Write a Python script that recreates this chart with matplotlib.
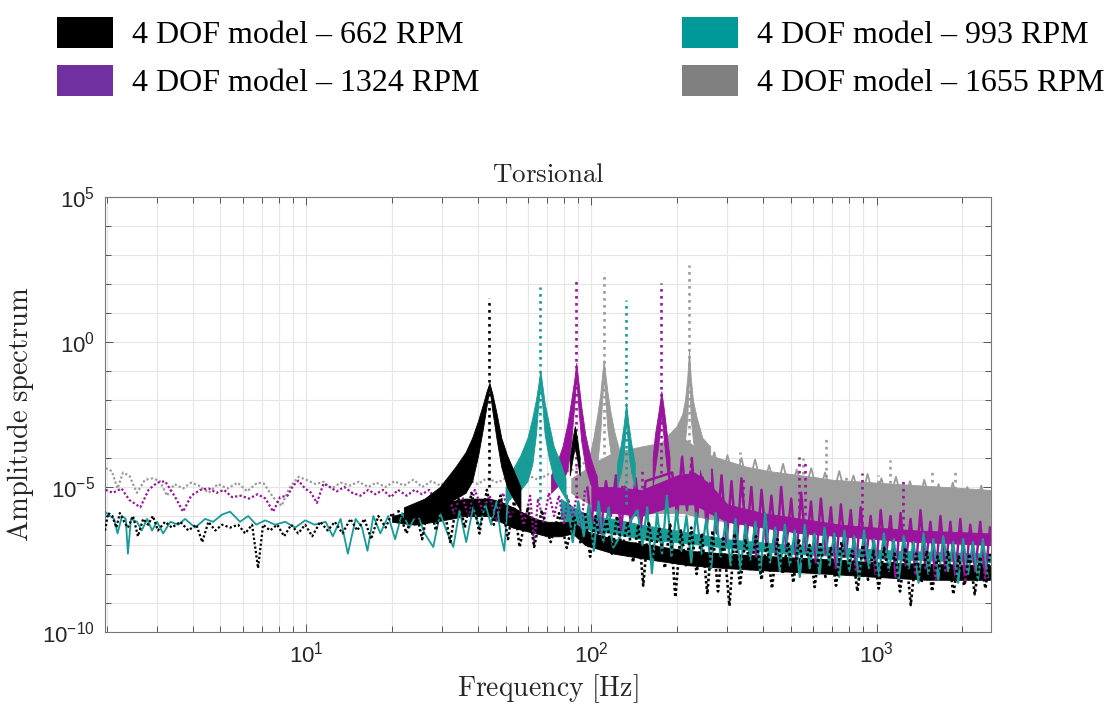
import matplotlib
matplotlib.use('Agg')
import matplotlib.pyplot as plt
from matplotlib.patches import Patch
import numpy as np

plt.rcParams['font.family'] = ['Liberation Sans', 'DejaVu Sans']

labels = ['4 DOF model – 662 RPM', '4 DOF model – 993 RPM',
          '4 DOF model – 1324 RPM', '4 DOF model – 1655 RPM']
legend_colors = ['#000000', '#009999', '#7030a0', '#808080']
line_colors = ['#000000', '#179c98', '#9a139c', '#9b9b9b']

# all amplitudes below are log10 of the amplitude spectrum, frequencies in Hz

# ---- 1655 RPM (gray) ----
gray_low_f = [1.98, 2.08, 2.18, 2.28, 2.40, 2.55, 2.72, 2.90, 3.07, 3.25,
              3.45, 3.70, 3.95, 4.20, 4.55, 4.90, 5.30, 5.75, 6.20, 6.75,
              7.10, 7.65, 8.20, 8.70, 9.40, 10.0, 10.8, 11.5, 12.3, 13.2,
              14.2, 15.3, 16.5, 17.6, 19.0, 20.4, 22.0, 23.8, 25.5, 27.5,
              29.5, 32.0, 34.5, 37.0, 40.0, 43.0, 47.0, 51.0, 55.0, 60.0,
              65.0, 71.0, 77.0, 83.0, 90.0, 96.0]
gray_low_e = [-4.35, -4.45, -5.05, -4.50, -4.62, -5.20, -4.75, -4.70, -4.80, -5.30,
              -4.90, -5.05, -4.85, -4.95, -5.20, -4.90, -5.05, -4.85, -5.15, -4.85,
              -4.88, -5.35, -5.65, -5.05, -4.65, -4.75, -4.90, -4.82, -5.05, -4.85,
              -4.95, -4.82, -5.00, -4.85, -5.00, -4.80, -4.95, -4.75, -5.00, -4.80,
              -4.95, -4.70, -4.90, -4.75, -4.90, -4.70, -4.85, -4.65, -4.80, -4.60,
              -4.75, -4.55, -4.65, -4.45, -4.35, -4.10]
gray_f = [85, 95, 105, 120, 135, 150, 170, 190, 210, 230, 260, 300, 350, 420,
          500, 600, 700, 850, 1000, 1200, 1450, 1750, 2100, 2500]
gray_hi = [-4.7, -4.4, -4.1, -3.8, -3.7, -3.6, -3.5, -3.4, -3.3, -3.6, -3.9, -4.1,
           -4.3, -4.45, -4.55, -4.65, -4.75, -4.8, -4.85, -4.9, -4.95, -5.0, -5.05, -5.1]
gray_lo = [-5.2, -5.5, -5.7, -5.8, -5.8, -5.9, -5.9, -5.9, -5.9, -6.0, -6.1, -6.2,
           -6.3, -6.35, -6.4, -6.45, -6.5, -6.55, -6.6, -6.65, -6.7, -6.75, -6.8, -6.85]
gray_noise_f = [240, 255, 270, 285, 300, 318, 336, 355, 375, 398, 420, 445, 470, 498,
                525, 555, 590, 625, 660, 700, 740, 785, 830, 880, 930, 985, 1040, 1100,
                1170, 1240, 1310, 1390, 1470, 1560, 1650, 1750, 1850, 1960, 2080, 2200,
                2330, 2470]
gray_noise_e = [-3.55, -4.6, -3.8, -4.8, -3.9, -4.9, -4.0, -5.0, -4.05, -5.1, -4.25, -5.2,
                -4.2, -5.2, -4.4, -5.3, -4.35, -5.3, -4.5, -5.4, -4.45, -5.4, -4.6, -5.5,
                -4.55, -5.5, -4.7, -5.6, -4.65, -5.6, -4.8, -5.7, -4.75, -5.7, -4.9, -5.8,
                -4.85, -5.8, -5.0, -5.9, -4.95, -5.9]
gray_res1_f = [87.5, 94.0, 98.2, 101.6, 104.9, 107.4, 109.1, 110.5, 111.9, 113.8,
               116.6, 120.4, 126.6, 134.0]
gray_res1_hi = [-4.8, -4.5, -4.0, -3.3, -2.5, -1.8, -1.1, -0.62, -1.1, -1.7,
                -2.4, -3.1, -3.9, -4.2]
gray_res1_lo = [-5.2, -5.0, -4.9, -4.6, -4.2, -3.2, -2.0, -1.2, -2.0, -3.0,
                -3.8, -4.3, -4.8, -5.0]
gray_res2_f = [174.6, 186, 199, 208, 213, 217, 220, 223, 227, 234, 245, 261]
gray_res2_hi = [-3.5, -3.2, -2.9, -2.5, -2.0, -1.2, -0.28, -1.2, -2.0, -2.6, -3.3, -3.6]
gray_res2_lo = [-4.5, -4.4, -4.2, -3.8, -3.4, -2.6, -1.0, -2.6, -3.4, -4.0, -4.6, -4.8]
gray_peak_f = [110.5, 220]
gray_peak_top = [2.41, 2.66]
gray_peak_base = [-4.6, -4.4]
gray_up_f = [333, 554, 667, 784, 1010, 1112, 1570, 1890]
gray_up_top = [-3.8, -4.0, -3.28, -4.5, -4.6, -4.07, -4.38, -4.47]
gray_up_base = [-4.6, -4.8, -4.9, -5.0, -5.1, -5.1, -5.3, -5.3]

# ---- 1324 RPM (purple) ----
purple_low_f = [1.98, 2.10, 2.25, 2.40, 2.62, 2.80, 3.00, 3.20, 3.45, 3.70,
                3.95, 4.25, 4.55, 4.85, 5.15, 5.50, 5.90, 6.30, 6.75, 7.20,
                7.66, 8.10, 8.60, 9.00, 9.40, 9.90, 10.4, 10.9, 11.5, 12.1,
                12.8, 13.6, 14.5, 15.5, 16.5, 17.5, 18.6, 19.8, 21.0, 22.5,
                24.0, 25.5, 27.0, 29.0, 31.0, 33.0, 35.0, 37.0, 39.0, 41.5,
                44.0, 46.5, 49.0, 52.0, 55.0, 58.0, 61.0, 63.0, 65.0, 68.0,
                71.0, 74.0, 77.0, 80.0, 83.0, 86.0, 89.0, 92.0, 95.0]
purple_low_e = [-5.10, -5.20, -5.05, -5.45, -5.70, -5.10, -4.85, -4.80, -5.30, -5.85,
                -5.30, -5.10, -5.05, -5.20, -5.10, -5.35, -5.30, -5.40, -5.25, -5.40,
                -5.85, -5.35, -5.30, -4.95, -4.78, -5.05, -5.20, -5.55, -4.88, -5.00,
                -5.15, -5.00, -5.20, -5.30, -5.10, -5.25, -5.10, -5.35, -5.10, -5.30,
                -5.10, -5.25, -5.10, -5.60, -5.05, -5.90, -5.20, -6.00, -5.10, -5.80,
                -5.30, -6.20, -5.20, -6.10, -5.40, -6.30, -5.30, -7.00, -5.40, -6.20,
                -5.20, -6.00, -5.30, -6.30, -5.40, -6.10, -5.20, -6.40, -5.10]
purple_f = [100, 120, 150, 200, 230, 260, 300, 400, 550, 750, 1000, 1400, 1900, 2500]
purple_hi = [-5.0, -5.0, -5.1, -4.6, -4.5, -4.9, -5.6, -5.9, -6.1, -6.3, -6.4, -6.5,
             -6.55, -6.6]
purple_lo = [-5.8, -5.9, -6.0, -5.6, -5.6, -5.9, -6.2, -6.4, -6.6, -6.7, -6.8, -6.9,
             -6.95, -7.0]
purple_noise_f = [96, 100, 104, 108, 112.5, 117, 122, 127, 132, 137.5, 143, 149, 155,
                  192, 200, 208, 216.5, 225, 234, 244, 254, 264, 275, 286, 298, 310,
                  323, 336, 350, 364, 379, 395, 411, 428, 445, 463, 482, 502, 523, 544,
                  566, 589, 613, 638, 664, 692, 720, 750, 780, 812, 846, 880, 916, 954,
                  993, 1034, 1076, 1120, 1166, 1214, 1264, 1316, 1370, 1426, 1484, 1545,
                  1609, 1675, 1743, 1815, 1889, 1967, 2047, 2131, 2219, 2310, 2404, 2500]
purple_noise_e = [-4.7, -6.3, -4.6, -6.6, -4.8, -6.0, -4.6, -6.5, -4.9, -6.2, -4.7, -6.4,
                  -4.8, -4.5, -6.0, -3.95, -5.8, -4.0, -6.2, -4.3, -6.4, -4.4, -6.6, -4.6,
                  -6.9, -4.8, -7.1, -4.7, -6.8, -5.0, -7.4, -5.1, -7.0, -5.3, -7.3, -5.0,
                  -7.1, -5.4, -7.5, -5.2, -7.2, -5.5, -7.6, -5.4, -7.3, -5.7, -7.8, -5.6,
                  -7.4, -5.8, -7.9, -5.7, -7.6, -6.0, -8.0, -5.8, -7.5, -6.0, -8.1, -5.9,
                  -7.7, -6.1, -8.0, -5.8, -7.8, -6.2, -8.2, -6.0, -7.9, -6.2, -8.1, -6.1,
                  -8.3, -6.3, -7.9, -6.2, -8.2, -6.4]
purple_res1_f = [72.2, 75.5, 79.2, 82.5, 85.0, 87.1, 88.5, 89.9, 92.1, 95.2, 99.3, 104]
purple_res1_hi = [-4.6, -4.2, -3.6, -2.8, -2.0, -1.3, -0.72, -1.3, -2.2, -3.2, -4.0, -4.6]
purple_res1_lo = [-5.2, -5.0, -4.8, -4.4, -3.4, -2.2, -1.2, -2.2, -3.4, -4.3, -4.9, -5.3]
purple_res2_f = [164, 167, 172, 176, 180, 184, 188]
purple_res2_hi = [-4.0, -3.2, -2.4, -1.7, -2.4, -3.2, -4.0]
purple_res2_lo = [-5.0, -4.4, -3.5, -2.5, -3.5, -4.4, -5.0]
purple_peak_f = [88.5, 176]
purple_peak_top = [2.17, 2.03]
purple_peak_base = [-5.0, -4.5]
purple_up_f = [128, 150, 340, 535, 560, 890, 1240]
purple_up_top = [-4.4, -4.3, -4.6, -3.97, -4.07, -4.5, -4.8]
purple_up_base = [-5.5, -5.5, -5.8, -6.2, -6.2, -6.5, -6.6]

# ---- 993 RPM (teal) ----
teal_low_f = [1.97, 2.05, 2.12, 2.18, 2.26, 2.33, 2.37, 2.43, 2.55, 2.65,
              2.77, 2.88, 3.00, 3.15, 3.34, 3.56, 3.76, 4.08, 4.42, 4.72,
              5.07, 5.41, 5.86, 6.26, 6.68, 7.18, 7.78, 8.44, 9.15, 9.92,
              10.7, 11.7, 12.4, 13.2, 14.0, 14.9, 15.7, 16.4, 17.2, 18.2,
              19.4, 20.5, 21.7, 23.0, 24.5, 26.0, 27.9, 29.5, 31.0, 32.8,
              34.5, 36.4, 38.5, 40.5, 42.5, 44.5, 46.5, 48.0, 49.5, 51.0]
teal_low_e = [-5.85, -6.00, -6.10, -6.60, -6.00, -6.10, -7.30, -6.10, -6.20, -6.50,
              -6.10, -6.50, -6.20, -6.60, -6.20, -6.30, -6.10, -6.40, -6.10, -6.20,
              -5.95, -5.85, -6.20, -6.00, -6.30, -6.15, -6.30, -6.20, -6.40, -6.15,
              -6.30, -6.20, -6.70, -6.10, -7.30, -6.10, -6.40, -7.20, -6.00, -6.60,
              -6.00, -6.80, -5.90, -6.40, -5.90, -6.60, -7.07, -5.90, -6.50, -7.07,
              -5.80, -6.90, -5.70, -6.40, -5.60, -6.30, -5.50, -6.60, -7.20, -5.40]
teal_f = [78, 90, 100, 120, 150, 200, 300, 500, 800, 1200, 1800, 2500]
teal_hi = [-5.4, -5.8, -6.0, -6.1, -6.3, -6.5, -6.8, -7.0, -7.1, -7.2, -7.25, -7.3]
teal_lo = [-6.1, -6.3, -6.5, -6.6, -6.8, -6.9, -7.1, -7.3, -7.4, -7.5, -7.55, -7.6]
teal_noise_f = [82, 86, 90, 94, 98, 102, 106, 110, 115, 119, 145, 151, 157, 163, 170,
                177, 184, 191, 199, 207, 215.5, 224, 233, 243, 253, 263, 273, 284, 296,
                308, 320, 333, 347, 361, 376, 391, 407, 423, 441, 458, 477, 497, 517,
                538, 560, 583, 606, 631, 657, 684, 711, 740, 771, 802, 835, 869, 904,
                941, 980, 1020, 1061, 1104, 1149, 1196, 1245, 1296, 1349, 1404, 1461,
                1521, 1583, 1647, 1714, 1784, 1857, 1933, 2012, 2094, 2179, 2268, 2360,
                2456]
teal_noise_e = [-5.3, -6.9, -5.5, -6.7, -5.6, -7.2, -5.5, -6.9, -5.7, -7.1, -5.8, -7.0,
                -5.7, -7.97, -5.9, -7.3, -5.3, -7.4, -5.8, -7.2, -6.0, -7.6, -5.9, -7.3,
                -6.1, -7.8, -5.9, -7.4, -6.2, -7.7, -6.1, -7.9, -6.3, -7.5, -6.2, -8.0,
                -5.9, -7.6, -6.4, -7.9, -6.3, -7.7, -6.5, -8.1, -6.3, -7.8, -6.6, -8.0,
                -6.4, -7.7, -6.6, -8.1, -6.5, -7.9, -6.7, -8.2, -6.5, -7.8, -6.8, -8.1,
                -6.6, -7.9, -6.8, -8.2, -6.7, -7.8, -6.9, -8.3, -6.6, -8.0, -6.8, -8.2,
                -6.7, -7.9, -6.9, -8.3, -6.8, -8.0, -6.9, -8.2, -6.8, -8.1]
teal_res1_f = [50, 52.9, 56.4, 59.7, 62.1, 63.9, 65.1, 66.2, 67.3, 68.6, 70.9, 73.8, 76.8, 81.2]
teal_res1_hi = [-5.0, -4.4, -3.9, -3.3, -2.6, -2.0, -1.5, -0.97, -1.5, -2.1, -2.8, -3.6, -4.0, -4.7]
teal_res1_lo = [-5.6, -5.3, -5.1, -4.8, -4.2, -3.2, -2.2, -1.5, -2.2, -3.2, -4.0, -4.7, -5.0, -5.4]
teal_res2_f = [123, 127, 130, 132.4, 134.8, 138, 142]
teal_res2_hi = [-4.2, -3.5, -2.8, -2.1, -2.8, -3.5, -4.2]
teal_res2_lo = [-5.0, -4.5, -3.8, -2.7, -3.8, -4.5, -5.0]
teal_peak_f = [66.2, 132.4]
teal_peak_top = [1.9, 1.45]
teal_peak_base = [-5.4, -5.6]

# ---- 662 RPM (black) ----
black_low_f = [1.97, 2.02, 2.09, 2.16, 2.22, 2.30, 2.37, 2.47, 2.57, 2.68,
               2.79, 2.90, 3.02, 3.20, 3.38, 3.62, 3.86, 4.12, 4.32, 4.54,
               4.80, 5.07, 5.41, 5.77, 6.11, 6.46, 6.78, 7.06, 7.47, 7.91,
               8.37, 8.86, 9.37, 9.92, 10.5, 11.2, 11.9, 12.6, 13.4, 14.3,
               15.1, 16.0, 16.9, 17.9, 19.0, 20.0, 21.4]
black_low_e = [-6.5, -5.9, -6.0, -6.4, -5.9, -6.2, -6.4, -6.0, -6.7, -6.1,
               -6.3, -6.0, -6.5, -6.2, -6.4, -6.2, -6.5, -6.3, -6.9, -6.2,
               -6.5, -6.3, -6.4, -6.3, -6.6, -6.3, -7.8, -6.3, -6.5, -6.3,
               -6.7, -6.3, -6.6, -6.3, -6.7, -6.2, -6.5, -6.2, -6.6, -6.1,
               -6.5, -6.1, -6.8, -6.0, -6.4, -5.9, -6.3]
black_f = [20, 24, 28, 32, 36, 40, 44, 48, 53, 58, 64, 70, 78, 86, 95, 120, 160,
           220, 300, 450, 700, 1000, 1500, 2500]
black_hi = [-6.0, -5.8, -5.6, -5.5, -5.4, -5.4, -5.4, -5.5, -5.7, -5.9, -6.1, -6.2,
            -6.2, -6.2, -6.5, -6.8, -7.0, -7.2, -7.3, -7.4, -7.5, -7.6, -7.65, -7.7]
black_lo = [-6.2, -6.3, -6.2, -6.1, -6.0, -6.0, -6.0, -6.2, -6.4, -6.5, -6.6, -6.7,
            -6.7, -6.6, -7.0, -7.3, -7.5, -7.7, -7.8, -7.9, -8.0, -8.1, -8.2, -8.2]
black_mid_f = [21, 22.5, 24, 25.5, 27, 28.5, 30, 32, 34, 36, 38, 40.5, 43, 45.5,
               48, 51, 53.5, 56, 60, 63, 67, 72, 77, 82, 87, 92]
black_mid_e = [-5.8, -6.6, -5.6, -6.8, -5.5, -6.5, -5.4, -6.9, -5.3, -6.4, -5.2, -6.6,
               -5.1, -6.3, -5.3, -6.8, -5.5, -7.07, -5.7, -7.07, -5.8, -6.9, -5.9, -7.1,
               -6.0, -7.0]
black_noise_f = [95, 99, 103.5, 108, 113, 118, 123, 128, 134, 140, 146, 152, 159, 166,
                 173, 181, 189, 197, 206, 215, 224, 234, 244, 255, 266, 278, 290, 305,
                 318, 332, 347, 362, 378, 395, 412, 430, 449, 469, 490, 511, 534, 557,
                 582, 607, 634, 662, 691, 721, 753, 786, 821, 857, 895, 934, 975, 1018,
                 1063, 1110, 1158, 1209, 1263, 1318, 1376, 1437, 1500, 1566, 1635, 1707,
                 1782, 1860, 1942, 2028, 2117, 2210, 2307, 2409, 2500]
black_noise_e = [-5.9, -7.4, -6.0, -7.1, -6.1, -7.3, -6.0, -7.2, -6.2, -7.6, -6.3, -8.4,
                 -6.2, -7.5, -6.4, -7.8, -6.3, -8.8, -6.5, -7.7, -6.4, -8.0, -6.6, -8.7,
                 -6.5, -8.6, -6.7, -9.1, -6.6, -8.4, -6.8, -7.9, -6.7, -8.2, -6.9, -8.5,
                 -6.8, -8.0, -6.9, -8.3, -6.8, -7.9, -7.0, -8.45, -6.9, -8.1, -7.1, -8.4,
                 -6.9, -8.0, -7.2, -8.6, -7.0, -8.2, -7.2, -8.5, -7.1, -8.1, -7.3, -8.6,
                 -7.1, -9.07, -7.3, -8.3, -7.2, -8.6, -7.4, -8.2, -7.2, -8.7, -7.4, -8.4,
                 -7.3, -8.7, -7.4, -8.5, -7.3]
black_res1_f = [22, 26, 29.4, 33.4, 36.2, 38.2, 40.1, 41.8, 42.9, 43.9, 45.0, 46.6,
                48.3, 50.6, 53.2, 56.4]
black_res1_hi = [-5.7, -5.4, -5.0, -4.3, -3.8, -3.3, -2.7, -2.1, -1.7, -1.41, -1.8, -2.5,
                 -3.3, -3.9, -4.4, -5.0]
black_res1_lo = [-6.1, -6.0, -5.7, -5.4, -5.2, -4.8, -3.9, -2.9, -2.2, -1.6, -2.4, -3.4,
                 -4.3, -5.0, -5.4, -5.8]
black_res2_f = [84, 86, 87.5, 89, 91]
black_res2_hi = [-4.0, -3.3, -2.9, -3.3, -4.0]
black_res2_lo = [-4.6, -4.0, -3.6, -4.0, -4.6]
black_peak_f = [43.9]
black_peak_top = [1.52]
black_peak_base = [-5.0]


def dec(e):
    return 10.0 ** np.asarray(e, dtype=float)


def band(ax, f, hi, lo, color, z):
    ax.fill_between(f, dec(lo), dec(hi), color=color, lw=0.6, zorder=z)


def spikes(ax, f, a, b, color, z, lw=1.9):
    ax.vlines(f, dec(a), dec(b), colors=color, linestyles='dotted', lw=lw, zorder=z)


def dotted(ax, f, e, color, z, lw=1.6):
    ax.plot(f, dec(e), color=color, lw=lw, dashes=(1, 1), zorder=z)


def trace(ax, f, e, color, z, lw=1.3):
    ax.plot(f, dec(e), color=color, lw=lw, zorder=z)


fig = plt.figure(figsize=(11.08, 7.13), dpi=100)
ax = fig.add_axes([105 / 1108, 1 - 632 / 713, 886 / 1108, 435 / 713])

black, teal, purple, gray = line_colors

# dense cores of the broadband noise
band(ax, gray_f, gray_hi, gray_lo, gray, 2)
band(ax, purple_f, purple_hi, purple_lo, purple, 3)
band(ax, teal_f, teal_hi, teal_lo, teal, 4)
band(ax, black_f, black_hi, black_lo, black, 5)

# low-frequency traces and noise spikes
dotted(ax, gray_low_f, gray_low_e, gray, 6)
trace(ax, gray_noise_f, gray_noise_e, gray, 6)
spikes(ax, gray_up_f, gray_up_base, gray_up_top, gray, 6)
dotted(ax, purple_low_f, purple_low_e, purple, 7)
trace(ax, purple_noise_f, purple_noise_e, purple, 7, lw=1.8)
spikes(ax, purple_up_f, purple_up_base, purple_up_top, purple, 7)
trace(ax, teal_low_f, teal_low_e, teal, 8)
trace(ax, teal_noise_f, teal_noise_e, teal, 8, lw=1.6)
dotted(ax, black_low_f, black_low_e, black, 9)
dotted(ax, black_mid_f, black_mid_e, black, 9, lw=1.8)
dotted(ax, black_noise_f, black_noise_e, black, 9, lw=1.9)

# resonance peaks
band(ax, gray_res1_f, gray_res1_hi, gray_res1_lo, gray, 10)
band(ax, gray_res2_f, gray_res2_hi, gray_res2_lo, gray, 10)
spikes(ax, gray_peak_f, gray_peak_base, gray_peak_top, gray, 10)
band(ax, purple_res1_f, purple_res1_hi, purple_res1_lo, purple, 11)
band(ax, purple_res2_f, purple_res2_hi, purple_res2_lo, purple, 11)
spikes(ax, purple_peak_f, purple_peak_base, purple_peak_top, purple, 11)
band(ax, teal_res1_f, teal_res1_hi, teal_res1_lo, teal, 12)
band(ax, teal_res2_f, teal_res2_hi, teal_res2_lo, teal, 12)
spikes(ax, teal_peak_f, teal_peak_base, teal_peak_top, teal, 12)
band(ax, black_res1_f, black_res1_hi, black_res1_lo, black, 13)
band(ax, black_res2_f, black_res2_hi, black_res2_lo, black, 13)
spikes(ax, black_peak_f, black_peak_base, black_peak_top, black, 13)

ax.set_xscale('log')
ax.set_yscale('log')
ax.set_xlim(1.97, 2520)
ax.set_ylim(1e-10, 1e5)

ax.set_xticks([10, 100, 1000])
ax.set_xticklabels([r'$\mathregular{10^{1}}$', r'$\mathregular{10^{2}}$',
                    r'$\mathregular{10^{3}}$'], fontsize=16)
ax.set_xticks([m * 10.0 ** k for k in range(0, 4) for m in range(2, 10)
               if 1.97 < m * 10.0 ** k < 2520], minor=True)
ax.set_yticks([1e-10, 1e-5, 1e0, 1e5])
ax.set_yticklabels([r'$\mathregular{10^{-10}}$', r'$\mathregular{10^{-5}}$',
                    r'$\mathregular{10^{0}}$', r'$\mathregular{10^{5}}$'], fontsize=16)
ax.set_yticks([10.0 ** k for k in range(-10, 6) if k % 5], minor=True)
ax.tick_params(which='both', direction='in', top=True, right=True,
               color='#555555', width=0.7)
ax.tick_params(which='major', length=6, pad=7, labelcolor='#262626')
ax.tick_params(which='minor', length=4, labelleft=False, labelbottom=False)
ax.grid(True, which='both', color='#e6e6e6', lw=0.8)
ax.set_axisbelow(True)
for sp in ax.spines.values():
    sp.set_color('#777777')
    sp.set_linewidth(0.8)

ax.set_title(r'$\mathrm{Torsional}$', math_fontfamily='cm', fontsize=19.5,
             pad=11, color='#262626')
ax.set_xlabel(r'$\mathrm{Frequency\ [Hz]}$', math_fontfamily='cm', fontsize=20,
              labelpad=3, color='#262626')
ax.set_ylabel(r'$\mathrm{Amplitude\ spectrum}$', math_fontfamily='cm', fontsize=20.5,
              labelpad=5, color='#262626')

# legend: column-major order gives rows 662/993 and 1324/1655
order = [0, 2, 1, 3]
handles = [Patch(facecolor=legend_colors[i], edgecolor='none') for i in order]
fig.legend(handles, [labels[i] for i in order], loc='upper left',
           bbox_to_anchor=(57 / 1108, 1 - 17 / 713), ncol=2, frameon=False,
           prop={'family': 'Liberation Serif', 'size': 23},
           handlelength=1.75, handleheight=1.13, handletextpad=0.6,
           columnspacing=6.33, labelspacing=0.45, borderpad=0, borderaxespad=0)

fig.savefig('out.png', dpi=100)
